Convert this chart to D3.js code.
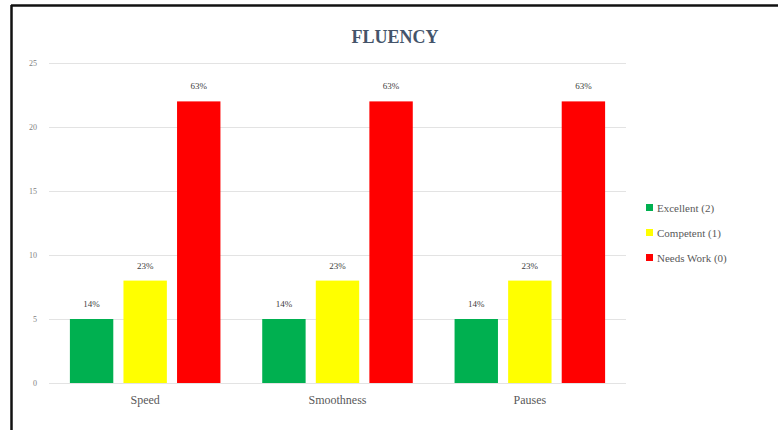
<!DOCTYPE html>
<html>
<head>
<meta charset="utf-8">
<script src="https://cdn.jsdelivr.net/npm/d3@7"></script>
<style>
  html, body { margin: 0; padding: 0; background: #fff; }
  svg { display: block; }
</style>
</head>
<body>
<svg id="chart" width="778" height="430"></svg>
<script>
// Fluency rubric counts per skill
const categories = ["Speed", "Smoothness", "Pauses"];
const seriesNames = ["Excellent (2)", "Competent (1)", "Needs Work (0)"];
const excellent = [5, 5, 5];
const competent = [8, 8, 8];
const needsWork = [22, 22, 22];
const yTicks = [0, 5, 10, 15, 20, 25];
const colors = ["#00b050", "#ffff00", "#ff0000"];

const series = [excellent, competent, needsWork];

const svg = d3.select("#chart");
const W = 778, H = 430;

// frame lines along the top and left edges
svg.append("line").attr("x1", 11).attr("x2", W).attr("y1", 5.5).attr("y2", 5.5)
  .attr("stroke", "#111").attr("stroke-width", 2.5);
svg.append("line").attr("x1", 11.5).attr("x2", 11.5).attr("y1", 5).attr("y2", H)
  .attr("stroke", "#111").attr("stroke-width", 2.5);

const plot = { left: 49, right: 626, top: 63, bottom: 383 };

const x = d3.scaleBand().domain(categories).range([plot.left, plot.right]).paddingInner(0).paddingOuter(0);
const x1 = d3.scaleBand().domain(d3.range(series.length)).range([0, x.bandwidth()])
  .paddingInner(0.19).paddingOuter(0.39);
const y = d3.scaleLinear().domain([0, 25]).range([plot.bottom, plot.top]);

// gridlines
svg.append("g").selectAll("line").data(yTicks).join("line")
  .attr("x1", plot.left).attr("x2", plot.right)
  .attr("y1", d => Math.round(y(d)) + 0.5).attr("y2", d => Math.round(y(d)) + 0.5)
  .attr("stroke", "#e3e3e3").attr("stroke-width", 1);

// y axis labels
const yAxis = d3.axisLeft(y).tickValues(yTicks).tickSize(0).tickPadding(12);
const yg = svg.append("g").attr("transform", `translate(${plot.left},0)`).call(yAxis);
yg.select(".domain").remove();
yg.selectAll("text").attr("font-family", "Liberation Serif, serif").attr("font-size", 8).attr("fill", "#7f7f7f");

// x axis labels
const xAxis = d3.axisBottom(x).tickSize(0).tickPadding(12);
const xg = svg.append("g").attr("transform", `translate(0,${plot.bottom})`).call(xAxis);
xg.select(".domain").remove();
xg.selectAll("text").attr("font-family", "Liberation Serif, serif").attr("font-size", 12).attr("fill", "#595959");

// bars
const rows = [];
categories.forEach((c, ci) => {
  const total = d3.sum(series, s => s[ci]);
  series.forEach((s, si) => rows.push({ c, si, v: s[ci], pct: Math.round(s[ci] / total * 100) }));
});

svg.append("g").selectAll("rect").data(rows).join("rect")
  .attr("x", d => x(d.c) + x1(d.si))
  .attr("width", x1.bandwidth())
  .attr("y", d => y(d.v))
  .attr("height", d => y(0) - y(d.v))
  .attr("fill", d => colors[d.si]);

// value labels
svg.append("g").selectAll("text").data(rows).join("text")
  .attr("x", d => x(d.c) + x1(d.si) + x1.bandwidth() / 2)
  .attr("y", d => y(d.v) - 12)
  .attr("text-anchor", "middle")
  .attr("font-family", "Liberation Serif, serif")
  .attr("font-size", 9)
  .attr("fill", "#404040")
  .text(d => d.pct + "%");

// title
svg.append("text").attr("x", 395).attr("y", 43).attr("text-anchor", "middle")
  .attr("font-family", "Liberation Serif, serif").attr("font-weight", "bold")
  .attr("font-size", 18).attr("fill", "#44546a").text("FLUENCY");

// legend
const lg = svg.append("g").attr("transform", "translate(646,208)");
seriesNames.forEach((n, i) => {
  const row = lg.append("g").attr("transform", `translate(0,${i * 25})`);
  row.append("rect").attr("x", 0).attr("y", -4).attr("width", 7).attr("height", 7).attr("fill", colors[i]);
  row.append("text").attr("x", 11).attr("y", 0).attr("dy", "0.35em")
    .attr("font-family", "Liberation Serif, serif").attr("font-size", 11).attr("fill", "#595959").text(n);
});
</script>
</body>
</html>
